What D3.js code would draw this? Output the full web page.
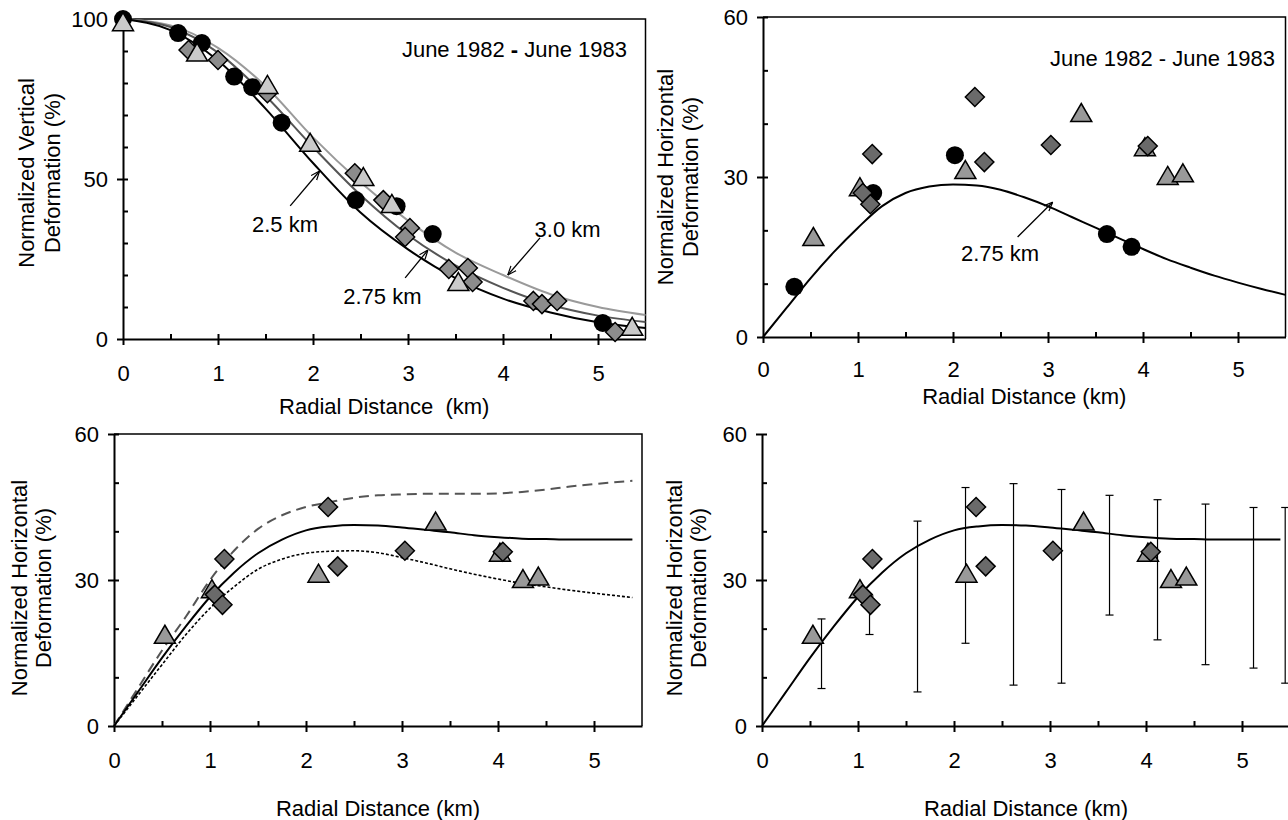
<!DOCTYPE html>
<html>
<head>
<meta charset="utf-8">
<script src="https://cdn.jsdelivr.net/npm/d3@7"></script>
<style>
body { margin: 0; background: #fff; }
svg { display: block; font-family: "Liberation Sans", Arial, sans-serif; }
</style>
</head>
<body>
<script>
const WIDTH = 1288;
const HEIGHT = 820;
const FONT_SIZE = 22;

// ---- top left: normalized vertical deformation (km, %)
const vertCircles = [[0,100],[0.58,95.6],[0.83,92.5],[1.17,82],[1.36,78.7],[1.67,67.6],[2.45,43.4],[2.88,41.5],[3.26,32.8],[5.05,5]];
const vertDiamonds = [[0.69,90.3],[1.0,87.2],[1.52,76.8],[2.44,51.8],[2.74,43.4],[3.02,34.7],[2.97,31.9],[3.43,21.9],[3.63,22.2],[3.68,17.8],[4.32,11.9],[4.41,10.9],[4.57,11.9],[5.18,2.2]];
const vertTriangles = [[0,99],[0.78,89.5],[1.52,79.4],[1.97,61.3],[2.53,50.6],[2.83,42.2],[3.53,17.8],[5.36,3.8]];

const vertKm = [0,0.5,1,1.5,2,2.5,3,3.5,4,4.5,5,5.5];
const vert250 = [100,96.5,87,72,55,39.5,28,19,12.6,8.3,5.2,3.4];
const vert275 = [100,97.5,89.5,76,60,45,32.5,23,16,10.7,7.3,5.3];
const vert300 = [100,98,91,79,63,49,37,27,20,14,10,7.5];

// ---- horizontal deformation, same observations in the other three panels
const horizCircles = [[0.33,9.4],[1.16,27.0],[2.02,34.1],[3.62,19.3],[3.88,16.9]];
const horizTriangles = [[0.53,18.75],[1.02,28.1],[2.13,31.3],[3.35,42],[4.02,35.6],[4.26,30.2],[4.42,30.7]];
const horizDiamonds = [[1.15,34.3],[1.05,27.0],[1.13,24.9],[2.23,45],[2.33,32.8],[3.03,36.0],[4.05,35.8]];

const horizKm = [0,0.25,0.5,0.75,1,1.25,1.5,1.75,2,2.25,2.5,2.75,3,3.25,3.5,3.75,4,4.25,4.5,4.75,5,5.25,5.5];
const horiz275 = [0,5.5,11,16,20.5,24.5,27,28.2,28.6,28.4,27.6,26.2,24.5,22.5,20.5,18.5,16.5,14.6,13,11.5,10.2,9,7.9];

const modelKm = [0,0.25,0.5,0.75,1,1.25,1.5,1.75,2,2.25,2.5,2.75,3,3.25,3.5,3.75,4,4.25,4.5,4.75,5,5.4];
const modelMid = [0,7,14,20.5,26.5,31.5,35.5,38.3,40.2,41,41.3,41.2,40.8,40.3,39.8,39.2,38.8,38.5,38.4,38.3,38.3,38.3];
const modelHigh = [0,7.8,15.5,22.5,30,36,40.5,43.3,45,46,46.9,47.4,47.6,47.7,47.7,47.7,47.8,48.1,48.6,49.2,49.7,50.4];
const modelLow = [0,6.3,12.6,18.8,24.2,28.6,32.2,34.3,35.5,35.9,36,35.6,34.6,33.5,32.3,31.2,30.2,29.3,28.6,27.9,27.3,26.4];

const errKm = [0.62,1.12,1.62,2.12,2.62,3.12,3.62,4.12,4.62,5.12,5.45];
const errLow = [7.7,18.8,7,17,8.4,8.8,22.8,17.7,12.6,11.9,8.8];
const errHigh = [22,26.7,42.1,49,49.8,48.6,47.4,46.5,45.6,44.9,44.9];

const xTicks = [0,1,2,3,4,5];
const xMinor = [0.5,1,1.5,2,2.5,3,3.5,4,4.5,5];

var zip = function(xs, ys){ return xs.map(function(d,i){ return [d, ys[i]]; }); };

var svg = d3.select('body').append('svg')
	.attr('width', WIDTH)
	.attr('height', HEIGHT);

var defs = svg.append('defs');
defs.append('marker')
	.attr('id','arr')
	.attr('viewBox','0 0 10 10')
	.attr('refX',10).attr('refY',5)
	.attr('markerWidth',9).attr('markerHeight',9)
	.attr('markerUnits','userSpaceOnUse')
	.attr('orient','auto')
	.append('path')
	.attr('d','M0,1 L10,5 L0,9')
	.attr('fill','none')
	.attr('stroke','#000')
	.attr('stroke-width',1.3);

var makePanel = function(p){
	var x = d3.scaleLinear().domain([0,5.5]).range([p.left, p.right]);
	var y = d3.scaleLinear().domain([0,p.ymax]).range([p.bottom, p.top]);
	var g = svg.append('g');

	if (p.frame) {
		g.append('path')
			.attr('d','M'+p.left+','+p.top+'H'+p.right+'V'+p.bottom)
			.attr('fill','none')
			.attr('stroke','#000')
			.attr('stroke-width',1.5);
	}

	var styleAxis = function(a){
		a.attr('font-size',FONT_SIZE).attr('font-family',null);
		a.select('.domain').attr('stroke-width',2);
		a.selectAll('.tick line').attr('stroke-width',2);
		a.selectAll('.tick text').attr('fill','#000');
	};

	g.append('g')
		.attr('transform','translate(0,'+p.bottom+')')
		.call(d3.axisBottom(x).tickValues(xTicks).tickFormat(d3.format('d')).tickSize(6).tickSizeOuter(0).tickPadding(p.xPad))
		.call(styleAxis);
	g.append('g')
		.attr('transform','translate(0,'+p.bottom+')')
		.call(d3.axisTop(x).tickValues(xMinor).tickSize(5).tickFormat(''))
		.call(styleAxis)
		.call(function(a){ a.select('.domain').remove(); });

	g.append('g')
		.attr('transform','translate('+p.left+',0)')
		.call(d3.axisLeft(y).tickValues(p.yTicks).tickFormat(d3.format('d')).tickSize(6).tickSizeOuter(0).tickPadding(9))
		.call(styleAxis);
	g.append('g')
		.attr('transform','translate('+p.left+',0)')
		.call(d3.axisRight(y).tickValues(d3.range(10,p.ymax+1,10)).tickSize(5).tickFormat(''))
		.call(styleAxis)
		.call(function(a){ a.select('.domain').remove(); });

	// axis titles
	g.append('text')
		.attr('x',(p.left+p.right)/2)
		.attr('y',p.xTitleY)
		.attr('text-anchor','middle')
		.attr('font-size',FONT_SIZE)
		.style('white-space','pre')
		.text(p.xTitle);
	p.yTitle.forEach(function(t,i){
		g.append('text')
			.attr('transform','translate('+(p.left+p.yTitleDx[i])+','+p.yTitleY+') rotate(-90)')
			.attr('text-anchor','middle')
			.attr('font-size',FONT_SIZE)
			.text(t);
	});

	return {g:g, x:x, y:y};
};

var line = function(pn, pts, color, width, dash){
	pn.g.append('path')
		.datum(pts)
		.attr('d', d3.line().x(function(d){return pn.x(d[0]);}).y(function(d){return pn.y(d[1]);}).curve(d3.curveMonotoneX))
		.attr('fill','none')
		.attr('stroke',color)
		.attr('stroke-width',width)
		.attr('stroke-dasharray',dash || null);
};

var SHAPES = {
	circle: 'M9,0A9,9 0 1,1 -9,0A9,9 0 1,1 9,0Z',
	diamond: 'M0,-9.5L9.5,0L0,9.5L-9.5,0Z',
	triangle: 'M0,-9.5L10.5,8.5L-10.5,8.5Z'
};

var points = function(pn, pts, shape, fill){
	pn.g.append('g').selectAll('path')
		.data(pts)
		.enter().append('path')
		.attr('transform',function(d){ return 'translate('+pn.x(d[0])+','+pn.y(d[1])+')'; })
		.attr('d',SHAPES[shape])
		.attr('fill',fill)
		.attr('stroke','#000')
		.attr('stroke-width', shape == 'circle' ? 0 : 1.5);
};

var label = function(pn, txt, x, y, anchor){
	return pn.g.append('text')
		.attr('x',pn.x(x))
		.attr('y',pn.y(y))
		.attr('text-anchor',anchor || 'middle')
		.attr('font-size',FONT_SIZE)
		.text(txt);
};

var arrow = function(pn, x1, y1, x2, y2){
	pn.g.append('line')
		.attr('x1',pn.x(x1)).attr('y1',pn.y(y1))
		.attr('x2',pn.x(x2)).attr('y2',pn.y(y2))
		.attr('stroke','#000')
		.attr('stroke-width',1.3)
		.attr('marker-end','url(#arr)');
};

// ---------- top left
var p1 = makePanel({left:123, right:645.5, top:19, bottom:339, ymax:100, yTicks:[0,50,100], frame:true,
	xPad:20, xTitle:'Radial Distance  (km)', xTitleY:414,
	yTitle:['Normalized Vertical','Deformation (%)'], yTitleDx:[-89,-63], yTitleY:173});
line(p1, zip(vertKm,vert300), '#9a9a9a', 2);
line(p1, zip(vertKm,vert275), '#555', 2);
line(p1, zip(vertKm,vert250), '#000', 2);
points(p1, vertCircles, 'circle', '#000');
points(p1, vertDiamonds, 'diamond', '#8c8c8c');
points(p1, vertTriangles, 'triangle', '#cacaca');
var t1 = label(p1, '', 5.305, 88.1, 'end');
t1.append('tspan').text('June 1982 ');
t1.append('tspan').attr('font-weight','bold').text('-');
t1.append('tspan').text(' June 1983');
label(p1, '2.5 km', 1.705, 33.4);
arrow(p1, 1.76, 41.6, 2.07, 52.5);
label(p1, '2.75 km', 2.73, 10.9);
arrow(p1, 2.97, 19.1, 3.21, 27.8);
label(p1, '3.0 km', 4.68, 31.9);
arrow(p1, 4.39, 31.6, 4.05, 20);

// ---------- top right
var p2 = makePanel({left:763, right:1285.5, top:17, bottom:337, ymax:60, yTicks:[0,30,60], frame:true,
	xPad:18, xTitle:'Radial Distance (km)', xTitleY:404,
	yTitle:['Normalized Horizontal','Deformation (%)'], yTitleDx:[-90,-65], yTitleY:177});
line(p2, zip(horizKm,horiz275), '#000', 2);
points(p2, horizTriangles, 'triangle', '#999');
points(p2, horizCircles, 'circle', '#000');
points(p2, horizDiamonds, 'diamond', '#6a6a6a');
label(p2, 'June 1982 - June 1983', 5.39, 50.8, 'end');
label(p2, '2.75 km', 2.495, 14.25);
arrow(p2, 2.68, 18.75, 3.05, 25.3);

// ---------- bottom left
var p3 = makePanel({left:114, right:642, top:434, bottom:726, ymax:60, yTicks:[0,30,60], frame:true,
	xPad:20, xTitle:'Radial Distance (km)', xTitleY:816,
	yTitle:['Normalized Horizontal','Deformation (%)'], yTitleDx:[-87,-63], yTitleY:588});
line(p3, zip(modelKm,modelHigh), '#555', 2, '10,6');
line(p3, zip(modelKm,modelLow), '#000', 1.6, '3,2');
line(p3, zip(modelKm,modelMid), '#000', 2);
points(p3, horizTriangles, 'triangle', '#999');
points(p3, horizDiamonds, 'diamond', '#6a6a6a');

// ---------- bottom right
var p4 = makePanel({left:762, right:1290, top:434, bottom:726, ymax:60, yTicks:[0,30,60], frame:false,
	xPad:20, xTitle:'Radial Distance (km)', xTitleY:816,
	yTitle:['Normalized Horizontal','Deformation (%)'], yTitleDx:[-80,-56], yTitleY:588});
line(p4, zip(modelKm,modelMid), '#000', 2);
var bars = p4.g.append('g').attr('stroke','#000').attr('stroke-width',1.2);
errKm.forEach(function(k,i){
	var xx = p4.x(k);
	bars.append('line').attr('x1',xx).attr('x2',xx).attr('y1',p4.y(errLow[i])).attr('y2',p4.y(errHigh[i]));
	bars.append('line').attr('x1',xx-4).attr('x2',xx+4).attr('y1',p4.y(errLow[i])).attr('y2',p4.y(errLow[i]));
	bars.append('line').attr('x1',xx-4).attr('x2',xx+4).attr('y1',p4.y(errHigh[i])).attr('y2',p4.y(errHigh[i]));
});
points(p4, horizTriangles, 'triangle', '#999');
points(p4, horizDiamonds, 'diamond', '#6a6a6a');
</script>
</body>
</html>
